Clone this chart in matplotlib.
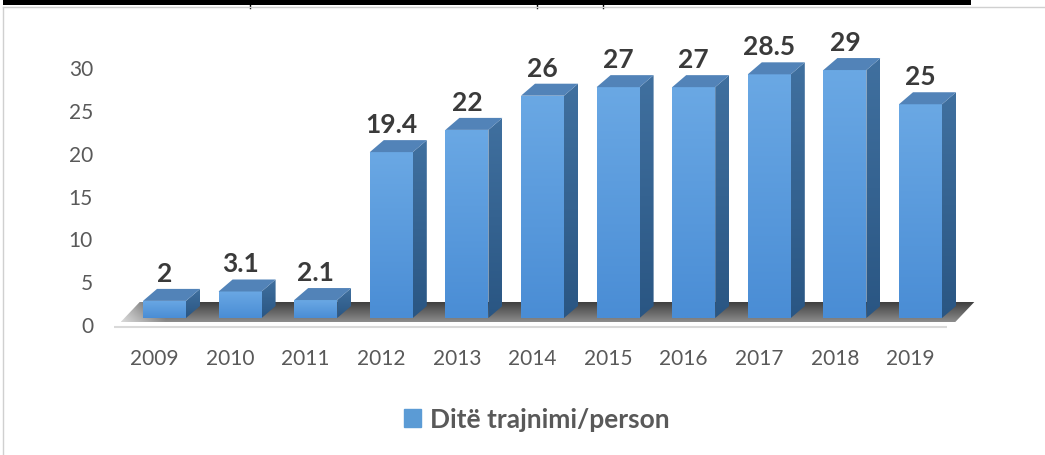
import numpy as np
import matplotlib.pyplot as plt
from matplotlib.patches import Polygon, Patch
from matplotlib.lines import Line2D
from matplotlib.colors import to_rgb

years = ["2009", "2010", "2011", "2012", "2013", "2014",
         "2015", "2016", "2017", "2018", "2019"]
days = [2, 3.1, 2.1, 19.4, 22, 26, 27, 27, 28.5, 29, 25]
yticks = [0, 5, 10, 15, 20, 25, 30]
legend_label = "Ditë trajnimi/person"

plt.rcParams['font.family'] = ['Lato', 'DejaVu Sans']

W, H = 1045, 456
fig = plt.figure(figsize=(W / 100, H / 100), dpi=100)
ax = fig.add_axes([0, 0, 1, 1])
ax.axis('off')

# pixel scale of the front plane
px_x, px_y = 75.6, 8.55
x0, y0 = 164.5, 319
dx, dy = 14 / px_x, 12 / px_y      # depth offset of the 3D bars
bw = 43 / px_x


def grad_poly(xs, ys, c_top, c_bot, z):
    poly = Polygon(list(zip(xs, ys)), closed=True, fc='none', ec='none')
    ax.add_patch(poly)
    t = np.linspace(0, 1, 64)[:, None, None]
    img = (1 - t) * np.array(to_rgb(c_top)) + t * np.array(to_rgb(c_bot))
    img = np.repeat(img, 2, axis=1)
    im = ax.imshow(img, extent=(min(xs), max(xs), min(ys), max(ys)),
                   origin='upper', aspect='auto', zorder=z,
                   interpolation='bilinear')
    im.set_clip_path(poly)


# floor shadow
n = len(days)
fl, fr = -0.5 - 6 / px_x, n - 0.5 - 3 / px_x
f_front, f_back = -4 / px_y, 16 / px_y
fdx = 19 / px_x
floor = Polygon([(fl, f_front), (fr, f_front), (fr + fdx, f_back),
                 (fl + fdx, f_back)], closed=True, fc='none', ec='none')
ax.add_patch(floor)
gx = np.linspace(0, 1, 200)
gy = np.linspace(0, 1, 32)[:, None]
shade = 0.25 + 0.3 * gy
fade = np.clip(gx / 0.05, 0, 1)[None, :]
val = 1 - (1 - shade) * (0.35 + 0.65 * fade)
floor_img = np.dstack([val, val, val])
im = ax.imshow(floor_img, extent=(fl, fr + fdx, f_front, f_back),
               origin='upper', aspect='auto', zorder=1, interpolation='bilinear')
im.set_clip_path(floor)
ax.plot([fl - 7 / px_x, fr - 8 / px_x], [-9 / px_y] * 2, color='#d9d9d9',
        lw=1.5, zorder=1, solid_capstyle='butt')

# bars
for i, v in enumerate(days):
    l, r = i - bw / 2, i + bw / 2
    grad_poly([l, r, r, l], [0, 0, v, v], '#6aa8e4', '#4a8dd5', 3)
    grad_poly([r, r + dx, r + dx, r], [0, dy, v + dy, v],
              '#40709f', '#2a5683', 3)
    ax.add_patch(Polygon([(l, v), (r, v), (r + dx, v + dy), (l + dx, v + dy)],
                         closed=True, fc='#5283b8', ec='none', zorder=3))
    ax.text(i, v + dy + 8 / px_y, f"{v:g}", ha='center', va='baseline',
            fontsize=19, fontweight='bold', color='#3a3a3a', zorder=4)

# axis labels
for t in yticks:
    ax.text((93 - x0) / px_x, t - 8 / px_y, str(t), ha='right', va='center',
            fontsize=15, color='#595959')
for i, y in enumerate(years):
    ax.text(i - 10 / px_x, (y0 - 359) / px_y, y, ha='center', va='center',
            fontsize=15, color='#595959')

ax.set_xlim(-x0 / px_x, (W - x0) / px_x)
ax.set_ylim((y0 - H) / px_y, y0 / px_y)

fig.legend(handles=[Patch(color='#5b9bd5')], labels=[legend_label],
           loc='center', bbox_to_anchor=(537 / W, 1 - 420 / H), frameon=False,
           handlelength=0.65, handleheight=0.65, handletextpad=0.35,
           prop={'size': 19, 'weight': 'bold'}, labelcolor='#595959')

# frame decorations
fig.add_artist(Line2D([5 / W, 968 / W], [1 - 2.5 / H] * 2, lw=3.6, color='black'))
for xp in [250, 537, 603]:
    fig.add_artist(Line2D([xp / W] * 2, [1 - 3 / H, 1 - 9 / H], lw=1, color='black'))
fig.add_artist(Line2D([3 / W, 1], [1 - 8 / H] * 2, lw=1, color='#d0d0d0'))
fig.add_artist(Line2D([3 / W] * 2, [0, 1 - 8 / H], lw=1, color='#d0d0d0'))

fig.savefig('out.png', dpi=100)
